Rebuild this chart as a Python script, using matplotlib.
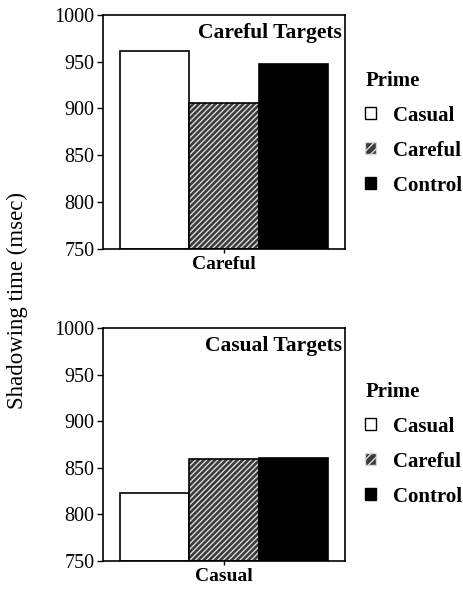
import numpy as np
import matplotlib.pyplot as plt
from matplotlib.patches import Patch

plt.rcParams['font.family'] = ['Liberation Serif', 'DejaVu Serif']

# 数据
primes = ['Casual', 'Careful', 'Control']
careful_targets = [961, 906, 947]
casual_targets = [823, 859, 861]
panels = [('Careful Targets', 'Careful', careful_targets),
          ('Casual Targets', 'Casual', casual_targets)]

x = np.arange(len(primes)) - 1


def draw_bars(ax, values):
    for xi, v, p in zip(x, values, primes):
        if p == 'Casual':
            ax.bar(xi, v - 750, bottom=750, width=1, color='white',
                   edgecolor='black', linewidth=1.2)
        elif p == 'Careful':
            ax.bar(xi, v - 750, bottom=750, width=1, color='#3a3a3a',
                   edgecolor='#d8d8d8', hatch='//////', linewidth=0)
            ax.bar(xi, v - 750, bottom=750, width=1, fill=False,
                   edgecolor='black', linewidth=1.2)
        else:
            ax.bar(xi, v - 750, bottom=750, width=1, color='black',
                   edgecolor='black', linewidth=1.2)


def legend_handles():
    return [Patch(facecolor='white', edgecolor='black', label='Casual'),
            Patch(facecolor='#3a3a3a', edgecolor='#d8d8d8', hatch='////',
                  label='Careful'),
            Patch(facecolor='black', edgecolor='black', label='Control')]


fig = plt.figure(figsize=(4.64, 5.90), dpi=100)
axes_pos = [[0.222, 0.578, 0.522, 0.397], [0.222, 0.049, 0.522, 0.395]]
legend_y = [0.880, 0.353]

for pos, ly, (title, xlab, values) in zip(axes_pos, legend_y, panels):
    ax = fig.add_axes(pos)
    draw_bars(ax, values)
    ax.set_xlim(-1.745, 1.745)
    ax.set_ylim(750, 1000)
    ax.set_yticks([750, 800, 850, 900, 950, 1000])
    ax.set_xticks([0])
    ax.set_xticklabels([xlab], fontweight='bold', fontsize=14)
    ax.tick_params(axis='y', labelsize=14.5, length=4, width=1,
                   direction='out', pad=2)
    ax.tick_params(axis='x', length=3, width=1, direction='out', pad=2)
    for s in ax.spines.values():
        s.set_linewidth(1.2)
    ax.text(0.985, 0.965, title, transform=ax.transAxes, ha='right', va='top',
            fontweight='bold', fontsize=15.5)

    leg = fig.legend(handles=legend_handles(), loc='upper left',
                     bbox_to_anchor=(0.787, ly), frameon=False,
                     title='Prime', alignment='left',
                     handlelength=0.5, handleheight=0.5, handletextpad=0.85,
                     labelspacing=0.72, borderaxespad=0, borderpad=0,
                     prop={'weight': 'bold', 'size': 15})
    leg.get_title().set_fontweight('bold')
    leg.get_title().set_fontsize(15)

fig.text(0.038, 0.49, 'Shadowing time (msec)', rotation=90, ha='center',
         va='center', fontsize=16.5)

plt.savefig('out.png', dpi=100)
